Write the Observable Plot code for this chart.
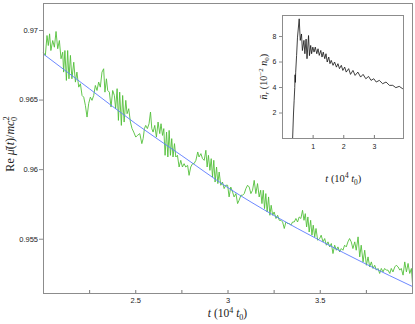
<!DOCTYPE html>
<html><head><meta charset="utf-8">
<script src="https://cdn.jsdelivr.net/npm/d3@7"></script>
<script src="https://cdn.jsdelivr.net/npm/@observablehq/plot@0.6"></script>
<style>
html,body{margin:0;padding:0;background:#fff;}
#wrap{position:relative;width:415px;height:324px;overflow:hidden;}
#wrap svg{position:absolute;}
</style></head>
<body><div id="wrap"></div>
<script>
// ---- main panel data ----
const mainXDomain = [2.0, 4.0];
const mainYDomain = [0.9511, 0.97194];
const mainYTicks = [0.955, 0.96, 0.965, 0.97];
const mainXLabels = [2.5, 3, 3.5];
const mainXTicks = [2.25, 2.5, 2.75, 3, 3.25, 3.5, 3.75];
// green: Re mu(t) (t in 1e4 t0, value in mc0^2)
const greenSeries = [
[2.000,0.96840],[2.010,0.96821],[2.019,0.96964],[2.026,0.96892],[2.033,0.96976],[2.040,0.96856],[2.050,0.96928],
[2.059,0.96880],[2.068,0.96993],[2.077,0.96869],[2.086,0.96928],[2.095,0.96797],[2.104,0.96844],[2.109,0.96701],
[2.116,0.96856],[2.124,0.96641],[2.131,0.96856],[2.138,0.96653],[2.146,0.96821],[2.154,0.96653],[2.164,0.96772],
[2.173,0.96629],[2.181,0.96701],[2.191,0.96593],[2.200,0.96617],[2.209,0.96533],[2.218,0.96521],[2.227,0.96462],
[2.236,0.96378],[2.245,0.96476],[2.254,0.96521],[2.263,0.96498],[2.272,0.96533],[2.281,0.96605],[2.290,0.96569],
[2.299,0.96629],[2.308,0.96593],[2.317,0.96701],[2.326,0.96725],[2.333,0.96557],[2.341,0.96653],[2.348,0.96569],
[2.357,0.96557],[2.366,0.96450],[2.375,0.96569],[2.384,0.96533],[2.391,0.96438],[2.399,0.96582],[2.406,0.96354],
[2.413,0.96557],[2.422,0.96318],[2.429,0.96533],[2.437,0.96342],[2.446,0.96498],[2.453,0.96402],[2.462,0.96438],
[2.471,0.96342],[2.480,0.96295],[2.489,0.96270],[2.500,0.96234],[2.509,0.96246],[2.522,0.96259],[2.533,0.96187],
[2.540,0.96223],[2.547,0.96295],[2.554,0.96318],[2.563,0.96295],[2.572,0.96330],[2.580,0.96414],[2.587,0.96295],
[2.594,0.96270],[2.603,0.96318],[2.612,0.96234],[2.621,0.96342],[2.630,0.96259],[2.637,0.96330],[2.645,0.96246],
[2.652,0.96295],[2.659,0.96103],[2.667,0.96270],[2.674,0.96091],[2.681,0.96282],[2.688,0.96103],[2.695,0.96223],
[2.702,0.96091],[2.710,0.96187],[2.717,0.96091],[2.726,0.96103],[2.735,0.96019],[2.744,0.96067],[2.753,0.96019],
[2.762,0.96043],[2.771,0.96019],[2.781,0.96031],[2.789,0.95959],[2.798,0.96019],[2.808,0.96043],[2.816,0.96043],
[2.826,0.96067],[2.836,0.96127],[2.843,0.96091],[2.853,0.96115],[2.862,0.96079],[2.871,0.96067],[2.880,0.96139],
[2.887,0.96019],[2.894,0.96103],[2.902,0.95995],[2.909,0.96079],[2.916,0.95947],[2.923,0.96067],[2.930,0.95911],
[2.938,0.96019],[2.945,0.95900],[2.952,0.95983],[2.961,0.95888],[2.970,0.95911],[2.979,0.95864],[2.988,0.95888],
[2.998,0.95888],[3.006,0.95804],[3.015,0.95875],[3.025,0.95839],[3.033,0.95804],[3.043,0.95828],[3.052,0.95756],
[3.060,0.95780],[3.070,0.95816],[3.079,0.95816],[3.088,0.95828],[3.097,0.95864],[3.106,0.95888],[3.115,0.95875],
[3.124,0.95828],[3.133,0.95852],[3.142,0.95923],[3.151,0.95828],[3.160,0.95900],[3.169,0.95804],[3.177,0.95852],
[3.184,0.95756],[3.191,0.95852],[3.198,0.95720],[3.205,0.95828],[3.212,0.95696],[3.220,0.95804],[3.227,0.95672],
[3.234,0.95744],[3.242,0.95672],[3.250,0.95696],[3.260,0.95649],[3.269,0.95672],[3.278,0.95636],[3.287,0.95636],
[3.296,0.95624],[3.305,0.95577],[3.314,0.95624],[3.323,0.95613],[3.332,0.95613],[3.341,0.95601],[3.350,0.95624],
[3.359,0.95624],[3.368,0.95649],[3.377,0.95624],[3.386,0.95660],[3.395,0.95649],[3.404,0.95708],[3.412,0.95636],
[3.419,0.95684],[3.426,0.95588],[3.433,0.95660],[3.440,0.95552],[3.448,0.95636],[3.455,0.95529],[3.462,0.95601],
[3.470,0.95517],[3.477,0.95577],[3.486,0.95493],[3.497,0.95505],[3.505,0.95529],[3.515,0.95481],[3.524,0.95505],
[3.533,0.95457],[3.542,0.95481],[3.551,0.95445],[3.560,0.95469],[3.569,0.95397],[3.578,0.95457],[3.587,0.95421],
[3.596,0.95445],[3.605,0.95409],[3.614,0.95433],[3.623,0.95421],[3.632,0.95457],[3.641,0.95445],[3.650,0.95481],
[3.659,0.95505],[3.668,0.95481],[3.677,0.95433],[3.687,0.95481],[3.695,0.95421],[3.705,0.95517],[3.714,0.95373],
[3.722,0.95457],[3.732,0.95337],[3.741,0.95421],[3.750,0.95313],[3.759,0.95373],[3.768,0.95301],[3.777,0.95337],
[3.786,0.95290],[3.795,0.95313],[3.804,0.95278],[3.813,0.95290],[3.822,0.95254],[3.831,0.95290],[3.840,0.95265],
[3.849,0.95290],[3.858,0.95278],[3.867,0.95278],[3.877,0.95254],[3.885,0.95290],[3.894,0.95265],[3.904,0.95301],
[3.912,0.95313],[3.922,0.95301],[3.931,0.95278],[3.939,0.95290],[3.949,0.95242],[3.958,0.95337],[3.967,0.95265],
[3.976,0.95326],[3.985,0.95254],[3.994,0.95290],[4.000,0.95182]
];
// blue: smooth fit
const blueT = [2.0, 2.25, 2.5, 2.75, 3.0, 3.25, 3.5, 3.75, 4.0];
const blueV = [0.9683, 0.9658, 0.9633, 0.9610, 0.9587, 0.9567, 0.9549, 0.9532, 0.9516];

// ---- inset data ----
const insetXDomain = [0, 3.95];
const insetYDomain = [0, 9.65];
const insetXTicks = [1, 2, 3];
const insetYTicks = [2, 4, 6, 8];
const insetSeries = [
[0.33,0],[0.36,2.0],[0.38,3.0],[0.40,4.0],[0.41,5.0],[0.42,4.4],[0.43,5.2],[0.46,6.5],[0.49,7.95],[0.545,9.39],
[0.58,7.7],[0.62,8.2],[0.65,6.9],[0.70,7.7],[0.73,6.65],[0.77,7.8],[0.80,6.26],[0.85,8.08],[0.88,6.5],[0.92,7.3],
[0.95,6.65],[0.99,7.17],[1.03,6.78],[1.07,7.17],[1.12,6.65],[1.16,7.04],[1.20,6.52],[1.25,6.91],[1.29,6.39],[1.33,6.78],
[1.38,6.26],[1.42,6.65],[1.46,6.0],[1.51,6.39],[1.55,5.87],[1.59,6.13],[1.65,5.74],[1.70,6.0],[1.76,5.6],[1.81,5.87],
[1.86,5.48],[1.92,5.74],[1.97,5.34],[2.03,5.6],[2.08,5.21],[2.16,5.48],[2.22,5.03],[2.30,5.34],[2.37,4.95],[2.46,5.21],
[2.55,4.82],[2.63,5.03],[2.72,4.69],[2.81,4.87],[2.89,4.56],[2.98,4.69],[3.06,4.43],[3.16,4.56],[3.27,4.30],[3.38,4.43],
[3.49,4.17],[3.60,4.17],[3.70,3.99],[3.81,4.09],[3.92,3.91]
];

const green = "#52bf3a";
const blue = "#5b7bff";
const gray = "#8c8c8c";

const wrap = document.getElementById("wrap");

const main = Plot.plot({
  width: 415, height: 324,
  marginLeft: 43, marginRight: 3, marginTop: 3, marginBottom: 31,
  x: {domain: mainXDomain},
  y: {domain: mainYDomain},
  style: {background: "transparent", fontFamily: "'Liberation Sans', Arial, sans-serif", fontSize: "7.5px", color: "#222"},
  marks: [
    Plot.line(greenSeries, {x: d => d[0], y: d => d[1], stroke: green, strokeWidth: 0.9}),
    Plot.line(blueT, {x: d => d, y: (d, i) => blueV[i], stroke: blue, strokeWidth: 0.9, curve: "monotone-x"}),
    Plot.frame({stroke: gray, strokeWidth: 1}),
    Plot.axisY(mainYTicks, {tickSize: 4, tickPadding: 1.5, stroke: gray, label: null, tickFormat: d => String(d)}),
    Plot.axisX(mainXLabels, {tickSize: 0, tickPadding: 4, label: null, tickFormat: d => String(d)}),
    Plot.ruleX(mainXTicks, {x: d => d, insetTop: 287, stroke: "#555", strokeWidth: 0.8})
  ]
});
main.style.left = "0px"; main.style.top = "0px";
wrap.appendChild(main);

const inset = Plot.plot({
  width: 175, height: 190,
  marginLeft: 42, marginRight: 12, marginTop: 15, marginBottom: 52,
  x: {domain: insetXDomain},
  y: {domain: insetYDomain},
  style: {background: "transparent", fontFamily: "'Liberation Sans', Arial, sans-serif", fontSize: "7px", color: "#222"},
  marks: [
    Plot.line(insetSeries, {x: d => d[0], y: d => d[1], stroke: "#111", strokeWidth: 0.8}),
    Plot.frame({stroke: gray, strokeWidth: 1}),
    Plot.axisY(insetYTicks, {tickSize: 3, tickPadding: 3, stroke: gray, label: null}),
    Plot.axisX(insetXTicks, {tickSize: 0, tickPadding: 6, label: null}),
    Plot.ruleX(insetXTicks, {x: d => d, insetTop: 120, stroke: "#555", strokeWidth: 0.8})
  ]
});
inset.style.left = "240px"; inset.style.top = "0px";
wrap.appendChild(inset);

// rich-text labels
function rich(svg, x, y, rotate, size, parts) {
  const t = d3.select(svg).append("text")
    .attr("transform", `translate(${x},${y})` + (rotate ? ` rotate(${rotate})` : ""))
    .attr("text-anchor", "middle")
    .attr("font-family", "'Liberation Serif', 'DejaVu Serif', serif")
    .attr("font-size", size).attr("fill", "#222");
  let base = 0;
  for (const p of parts) {
    const [txt, opt = ""] = p;
    const s = t.append("tspan").text(txt);
    if (opt.includes("i")) s.attr("font-style", "italic");
    let target = 0, fs = null, dx = 0;
    if (opt.includes("sup")) { target = -0.38 * size; fs = size * 0.7; }
    if (opt.includes("sub")) { target = 0.25 * size; fs = size * 0.7; }
    if (opt.includes("back")) dx = -0.38 * size;
    if (fs) s.attr("font-size", fs);
    if (target !== base) s.attr("dy", target - base);
    if (dx) s.attr("dx", dx);
    base = target;
  }
  return t;
}

rich(main, 14, 144, -90, 12, [["Re "], ["μ̄", "i"], ["("], ["t", "i"], [")/"], ["mc", "i"], ["2", "sup"], ["0", "sub back"]]);
rich(main, 227.5, 317, 0, 11.5, [["t", "i"], [" (10"], ["4", "sup"], [" "], ["t", "i"], ["0", "sub"], [")"]]);
rich(inset, 26.7, 76.7, -90, 10, [["n̄", "i"], ["r", "i sub"], [" (10"], ["−2", "sup"], [" "], ["n", "i"], ["0", "sub"], [")"]]);
rich(inset, 103.3, 182, 0, 10.5, [["t", "i"], [" (10"], ["4", "sup"], [" "], ["t", "i"], ["0", "sub"], [")"]]);
</script>
</body></html>
